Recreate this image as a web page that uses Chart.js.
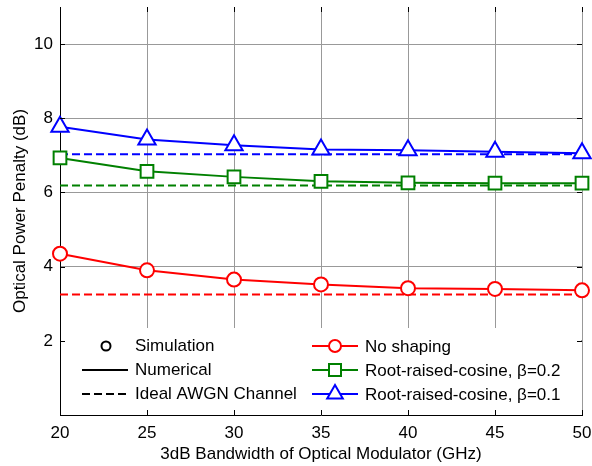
<!DOCTYPE html>
<html>
<head>
<meta charset="utf-8">
<title>Optical power penalty vs modulator bandwidth</title>
<script src="https://cdn.jsdelivr.net/npm/chart.js@4/dist/chart.umd.min.js"></script>
<style>
  html, body { margin: 0; padding: 0; background: #fff; }
  canvas { display: block; }
</style>
</head>
<body>
<canvas id="penalty" width="592" height="466"></canvas>
<script>
'use strict';

// bandwidth of the modulator (GHz) along the x axis
var bandwidth = [20, 25, 30, 35, 40, 45, 50];

// optical power penalty (dB) for each pulse shape
var penaltyNoShaping = [4.35, 3.90, 3.65, 3.52, 3.42, 3.40, 3.36];
var penaltyRrc02 = [6.93, 6.57, 6.42, 6.30, 6.26, 6.25, 6.25];
var penaltyRrc01 = [7.77, 7.43, 7.27, 7.16, 7.14, 7.10, 7.06];

// ideal AWGN channel penalty: no shaping, beta=0.2, beta=0.1
var awgnPenalty = [3.25, 6.19, 7.03];

var seriesNames = ['No shaping', 'Root-raised-cosine, \u03b2=0.2', 'Root-raised-cosine, \u03b2=0.1'];
var styleNames = ['Simulation', 'Numerical', 'Ideal AWGN Channel'];

var xTicks = [20, 25, 30, 35, 40, 45, 50];
var yTicks = [2, 4, 6, 8, 10];

var colors = ['#ff0000', '#008000', '#0000ff'];
var markers = ['circle', 'rect', 'triangle'];
var markerSizes = [7, 9, 10];
var FONT = '"Liberation Sans", Arial, Helvetica, sans-serif';

// pair up x values with a series
function toPoints(values) {
  return values.map(function (v, i) {
    return { x: bandwidth[i], y: v };
  });
}

// flat line across the whole bandwidth range
function flatLine(value) {
  return [
    { x: bandwidth[0], y: value },
    { x: bandwidth[bandwidth.length - 1], y: value }
  ];
}

function curveDataset(values, idx) {
  return {
    label: seriesNames[idx],
    data: toPoints(values),
    borderColor: colors[idx],
    borderWidth: 2,
    pointStyle: markers[idx],
    pointRadius: markerSizes[idx],
    pointHoverRadius: markerSizes[idx],
    pointBorderColor: colors[idx],
    pointBackgroundColor: '#fff',
    pointBorderWidth: 2,
    tension: 0,
    clip: false
  };
}

function awgnDataset(value, idx) {
  return {
    label: 'AWGN ' + seriesNames[idx],
    data: flatLine(value),
    borderColor: colors[idx],
    borderWidth: 2,
    borderDash: [8, 4],
    pointRadius: 0,
    pointHoverRadius: 0,
    tension: 0,
    clip: false
  };
}

// small marker drawer used by the legend
function drawMarker(ctx, style, x, y, r, color) {
  ctx.save();
  ctx.lineWidth = 2;
  ctx.strokeStyle = color;
  ctx.fillStyle = '#fff';
  ctx.beginPath();
  if (style === 'circle') {
    ctx.arc(x, y, r, 0, Math.PI * 2);
  } else if (style === 'rect') {
    ctx.rect(x - r, y - r, 2 * r, 2 * r);
  } else {
    ctx.moveTo(x, y - r);
    ctx.lineTo(x + r * 0.866, y + r * 0.5);
    ctx.lineTo(x - r * 0.866, y + r * 0.5);
    ctx.closePath();
  }
  ctx.fill();
  ctx.stroke();
  ctx.restore();
}

function drawSample(ctx, x0, x1, y, color, dash) {
  ctx.save();
  ctx.strokeStyle = color;
  ctx.lineWidth = 2;
  ctx.setLineDash(dash || []);
  ctx.beginPath();
  ctx.moveTo(x0, y);
  ctx.lineTo(x1, y);
  ctx.stroke();
  ctx.restore();
}

// two legends sitting inside the bottom of the plot
var insideLegend = {
  id: 'insideLegend',
  afterDraw: function (chart) {
    var ctx = chart.ctx;
    var area = chart.chartArea;
    var top = area.bottom - 87;
    var rows = [top + 18, top + 42, top + 66];

    ctx.save();
    ctx.fillStyle = '#fff';
    ctx.fillRect(area.left + 1, top, area.right - area.left - 2, area.bottom - top - 1);

    ctx.font = '17px ' + FONT;
    ctx.fillStyle = '#000';
    ctx.textBaseline = 'middle';
    ctx.textAlign = 'left';

    // line style key
    var lx = area.left + 22;
    drawMarker(ctx, 'circle', lx + 24, rows[0], 4.5, '#000');
    drawSample(ctx, lx, lx + 46, rows[1], '#000');
    drawSample(ctx, lx, lx + 46, rows[2], '#000', [8, 4]);
    styleNames.forEach(function (name, i) {
      ctx.fillText(name, lx + 53, rows[i]);
    });

    // series key
    var rx = area.left + 252;
    seriesNames.forEach(function (name, i) {
      drawSample(ctx, rx, rx + 46, rows[i], colors[i]);
      drawMarker(ctx, markers[i], rx + 23, rows[i], i === 2 ? 9 : 6, colors[i]);
      ctx.fillStyle = '#000';
      ctx.fillText(name, rx + 53, rows[i] + 1);
    });
    ctx.restore();

    // inward tick marks on all four sides
    var xs = chart.scales.x;
    var ys = chart.scales.y;
    ctx.save();
    ctx.strokeStyle = '#000';
    ctx.lineWidth = 1;
    ctx.beginPath();
    xTicks.forEach(function (v) {
      var px = Math.round(xs.getPixelForValue(v)) + 0.5;
      ctx.moveTo(px, area.bottom);
      ctx.lineTo(px, area.bottom - 5);
      ctx.moveTo(px, area.top);
      ctx.lineTo(px, area.top + 5);
    });
    yTicks.forEach(function (v) {
      var py = Math.round(ys.getPixelForValue(v)) + 0.5;
      ctx.moveTo(area.left, py);
      ctx.lineTo(area.left + 5, py);
      ctx.moveTo(area.right, py);
      ctx.lineTo(area.right - 5, py);
    });
    ctx.stroke();
    ctx.restore();
  }
};

var datasets = [
  curveDataset(penaltyNoShaping, 0),
  curveDataset(penaltyRrc02, 1),
  curveDataset(penaltyRrc01, 2)
].concat(awgnPenalty.map(awgnDataset));

var gridColor = '#999999';

new Chart(document.getElementById('penalty').getContext('2d'), {
  type: 'line',
  data: { datasets: datasets },
  options: {
    responsive: false,
    animation: false,
    devicePixelRatio: 1,
    layout: {
      autoPadding: false,
      padding: { top: 7, right: 10, left: 0, bottom: 0 }
    },
    plugins: {
      legend: { display: false },
      tooltip: { enabled: false }
    },
    scales: {
      x: {
        type: 'linear',
        min: 20,
        max: 50,
        afterBuildTicks: function (scale) {
          scale.ticks = xTicks.map(function (v) { return { value: v }; });
        },
        afterFit: function (scale) {
          scale.height = 51;
          scale.paddingLeft = 0;
          scale.paddingRight = 0;
        },
        grid: { color: gridColor, drawTicks: false },
        border: { color: '#000', width: 1 },
        ticks: {
          color: '#000',
          font: { family: FONT, size: 17 },
          padding: 8,
          maxRotation: 0
        },
        title: {
          display: true,
          text: '3dB Bandwidth of Optical Modulator (GHz)',
          color: '#000',
          font: { family: FONT, size: 17 },
          padding: { top: 0, bottom: 1 }
        }
      },
      y: {
        min: 0,
        max: 11,
        afterBuildTicks: function (scale) {
          scale.ticks = yTicks.map(function (v) { return { value: v }; });
        },
        afterFit: function (scale) {
          scale.width = 60;
          scale.paddingTop = 0;
          scale.paddingBottom = 0;
        },
        grid: { color: gridColor, drawTicks: false },
        border: { color: '#000', width: 1 },
        ticks: {
          color: '#000',
          font: { family: FONT, size: 17 },
          padding: 7
        },
        title: {
          display: true,
          text: 'Optical Power Penalty (dB)',
          color: '#000',
          font: { family: FONT, size: 17 },
          padding: { top: 10, bottom: 0 }
        }
      }
    }
  },
  plugins: [insideLegend]
});
</script>
</body>
</html>
